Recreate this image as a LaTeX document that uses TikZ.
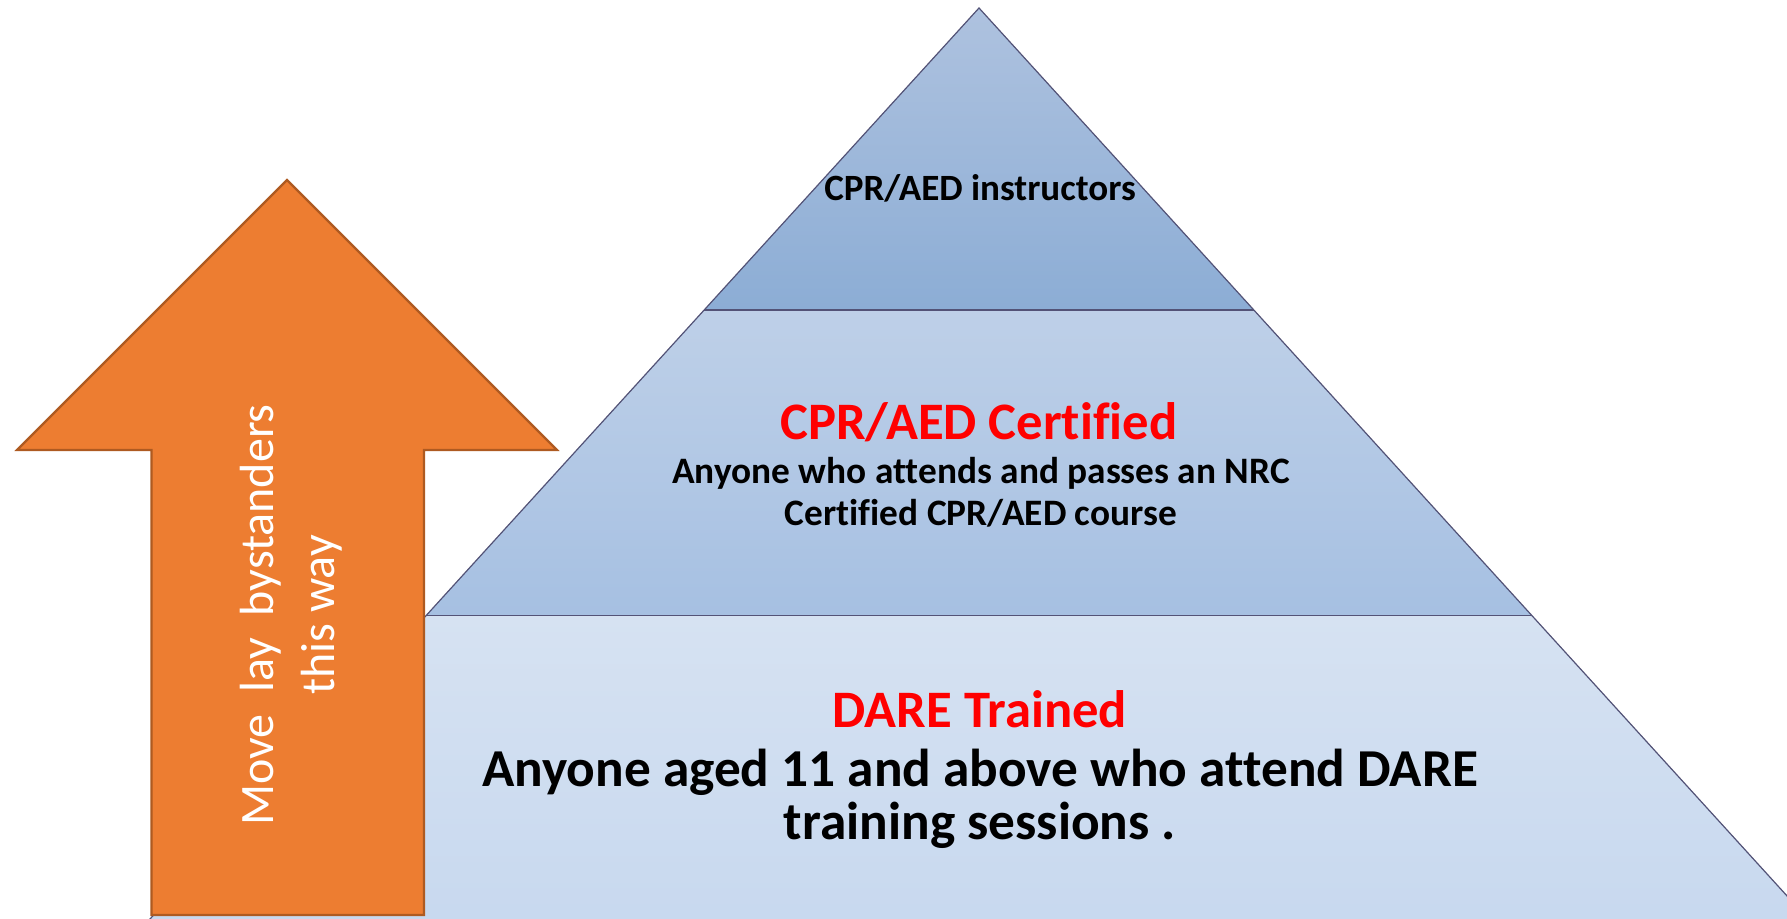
\documentclass[tikz,border=0pt]{standalone}
\usepackage{fontspec}
\setmainfont{Carlito}[Ligatures=NoCommon]
\begin{document}
\begin{tikzpicture}[x=0.75pt,y=-0.75pt,
  tieredge/.style={draw=black!60!blue!35!gray, line width=0.9pt},
  arrowbody/.style={fill=arroworange, draw=arrowedge, line width=1.6pt, line join=miter},
  titletext/.style={text=red, font=\bfseries\fontsize{39.5}{44}\selectfont},
  bodysmall/.style={align=center, font=\bfseries\fontsize{28}{31.5}\selectfont},
  bodylarge/.style={align=center, font=\bfseries\fontsize{40}{40}\selectfont},
  arrowtext/.style={text=white, align=center, rotate=90, font=\fontsize{36}{46}\selectfont}]
\definecolor{arroworange}{RGB}{237,125,49}
\definecolor{arrowedge}{RGB}{174,90,33}
\useasboundingbox (0,0) rectangle (1787,919);
\clip (0,0) rectangle (1787,919);

% pyramid corners: apex, tier dividers, and the base below the page
\coordinate (apex) at (979,8);
\coordinate (tl) at (704.2,310);
\coordinate (tr) at (1253.8,310);
\coordinate (ml) at (426.2,615.5);
\coordinate (mr) at (1531.8,615.5);
\coordinate (bl) at (76.3,1000);
\coordinate (br) at (1881.7,1000);

% bottom tier
\fill[top color={rgb,255:red,214;green,226;blue,242}, bottom color={rgb,255:red,196;green,214;blue,238}]
  (ml) -- (mr) -- (br) -- (bl) -- cycle;
% middle tier
\fill[top color={rgb,255:red,190;green,208;blue,232}, bottom color={rgb,255:red,166;green,192;blue,226}]
  (tl) -- (tr) -- (mr) -- (ml) -- cycle;
% top tier
\fill[top color={rgb,255:red,174;green,194;blue,223}, bottom color={rgb,255:red,140;green,173;blue,213}]
  (apex) -- (tr) -- (tl) -- cycle;
% outlines
\draw[tieredge] (bl) -- (apex) -- (br);
\draw[tieredge] (tl) -- (tr);
\draw[tieredge] (ml) -- (mr);

% tier labels
\node[font=\bfseries\fontsize{27.8}{31.5}\selectfont] (top) at (980,188) {CPR/AED instructors};
\node[titletext] (midtitle) at (979,422) {CPR/AED Certified};
\node[bodysmall] (midbody) at (981,492) {Anyone who attends and passes an NRC\\Certified CPR/AED course};
\node[titletext] (bottitle) at (980,709) {DARE Trained};
\node[bodylarge] (botbody) at (980,799) {Anyone aged 11 and above who attend DARE\\training sessions .};

% upward arrow
\coordinate (tip) at (287,180);
\draw[arrowbody] (tip) -- (557,450) -- (424,450) -- (424,915) -- (151.5,915) -- (151.5,450) -- (17,450) -- cycle;
\node[arrowtext] (move) at (291,615) {Move\ \ lay\ \ bystanders\\this way};
\end{tikzpicture}
\end{document}
